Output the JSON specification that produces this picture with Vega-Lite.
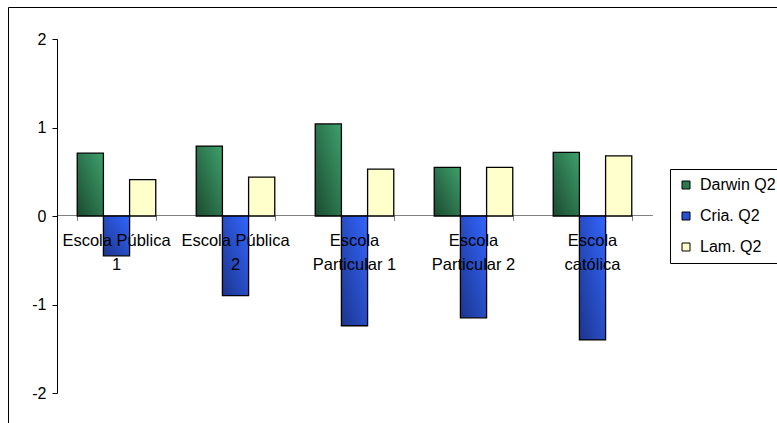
{
  "$schema": "https://vega.github.io/schema/vega-lite/v6.json",
  "autosize": {"type": "none"},
  "width": 769,
  "height": 416,
  "padding": {"left": 8, "top": 7, "right": 0, "bottom": 0},
  "background": "#ffffff",
  "config": {
    "font": "Liberation Sans",
    "view": {"stroke": "#000000", "strokeWidth": 1}
  },
  "data": {
    "values": [
      {"escola": "Escola Pública 1", "serie": "Darwin Q2", "valor": 0.71},
      {"escola": "Escola Pública 1", "serie": "Cria. Q2", "valor": -0.45},
      {"escola": "Escola Pública 1", "serie": "Lam. Q2", "valor": 0.41},
      {"escola": "Escola Pública 2", "serie": "Darwin Q2", "valor": 0.79},
      {"escola": "Escola Pública 2", "serie": "Cria. Q2", "valor": -0.9},
      {"escola": "Escola Pública 2", "serie": "Lam. Q2", "valor": 0.44},
      {"escola": "Escola Particular 1", "serie": "Darwin Q2", "valor": 1.04},
      {"escola": "Escola Particular 1", "serie": "Cria. Q2", "valor": -1.24},
      {"escola": "Escola Particular 1", "serie": "Lam. Q2", "valor": 0.53},
      {"escola": "Escola Particular 2", "serie": "Darwin Q2", "valor": 0.55},
      {"escola": "Escola Particular 2", "serie": "Cria. Q2", "valor": -1.15},
      {"escola": "Escola Particular 2", "serie": "Lam. Q2", "valor": 0.55},
      {"escola": "Escola católica", "serie": "Darwin Q2", "valor": 0.72},
      {"escola": "Escola católica", "serie": "Cria. Q2", "valor": -1.4},
      {"escola": "Escola católica", "serie": "Lam. Q2", "valor": 0.68}
    ]
  },
  "encoding": {
    "x": {
      "field": "escola",
      "type": "nominal",
      "sort": null,
      "scale": {"range": [49, 644], "paddingInner": 0.34, "paddingOuter": 0.17},
      "axis": {
        "orient": "bottom",
        "offset": -208,
        "title": null,
        "labels": false,
        "domainColor": "#808080",
        "domainWidth": 1,
        "tickColor": "#808080",
        "tickSize": 5,
        "tickBand": "extent",
        "zindex": 0
      }
    },
    "xOffset": {
      "field": "serie",
      "type": "nominal",
      "scale": {"domain": ["Darwin Q2", "Cria. Q2", "Lam. Q2"], "paddingInner": 0, "paddingOuter": 0}
    },
    "y": {
      "field": "valor",
      "type": "quantitative",
      "scale": {"domain": [-2, 2], "range": [386, 32], "nice": false, "zero": false},
      "axis": {
        "title": null,
        "offset": -49,
        "values": [-2, -1, 0, 1, 2],
        "labelExpr": "'' + datum.value",
        "grid": false,
        "domainColor": "#000000",
        "tickColor": "#000000",
        "tickSize": 5,
        "labelFontSize": 16,
        "labelColor": "#000000",
        "labelPadding": 6
      }
    }
  },
  "resolve": {"axis": {"x": "independent"}},
  "layer": [
    {
      "transform": [{"filter": "datum.serie === 'Darwin Q2'"}],
      "mark": {
        "type": "bar", "stroke": "#000000", "strokeWidth": 1.3,
        "color": {"gradient": "linear", "x1": 0, "y1": 1, "x2": 1, "y2": 0,
                  "stops": [{"offset": 0, "color": "#1a4a30"}, {"offset": 1, "color": "#3fa06c"}]}
      }
    },
    {
      "transform": [{"filter": "datum.serie === 'Cria. Q2'"}],
      "mark": {
        "type": "bar", "stroke": "#000000", "strokeWidth": 1.3,
        "color": {"gradient": "linear", "x1": 0, "y1": 1, "x2": 1, "y2": 0,
                  "stops": [{"offset": 0, "color": "#1c358c"}, {"offset": 1, "color": "#3366ff"}]}
      }
    },
    {
      "transform": [{"filter": "datum.serie === 'Lam. Q2'"}],
      "mark": {"type": "bar", "stroke": "#000000", "strokeWidth": 1.3, "color": "#ffffcc"}
    },
    {
      "mark": {"type": "text", "text": ""},
      "encoding": {
        "x": {
          "field": "escola",
          "type": "nominal",
          "sort": null,
          "axis": {
            "orient": "bottom",
            "offset": -208,
            "title": null,
            "domain": false,
            "ticks": false,
            "labelAngle": 0,
            "labelFontSize": 16.5,
            "labelColor": "#000000",
            "labelPadding": 17,
            "labelLineHeight": 24,
            "labelExpr": "indexof(datum.value, 'Pública') >= 0 ? [slice(datum.value, 0, lastindexof(datum.value, ' ')), slice(datum.value, lastindexof(datum.value, ' ') + 1)] : [slice(datum.value, 0, indexof(datum.value, ' ')), slice(datum.value, indexof(datum.value, ' ') + 1)]",
            "zindex": 1
          }
        },
        "y": {"datum": 0, "type": "quantitative"},
        "fill": {
          "field": "serie",
          "type": "nominal",
          "scale": {
            "domain": ["Darwin Q2", "Cria. Q2", "Lam. Q2"],
            "range": ["#2a7a4e", "#2a4fd0", "#ffffcc"]
          },
          "legend": {
            "title": null,
            "orient": "none",
            "legendX": 662,
            "legendY": 162,
            "strokeColor": "#000000",
            "padding": 8,
            "rowPadding": 15,
            "symbolType": "square",
            "symbolSize": 64,
            "symbolStrokeColor": "#000000",
            "symbolStrokeWidth": 1,
            "labelFontSize": 16,
            "labelColor": "#000000",
            "labelOffset": 6
          }
        }
      }
    }
  ]
}
